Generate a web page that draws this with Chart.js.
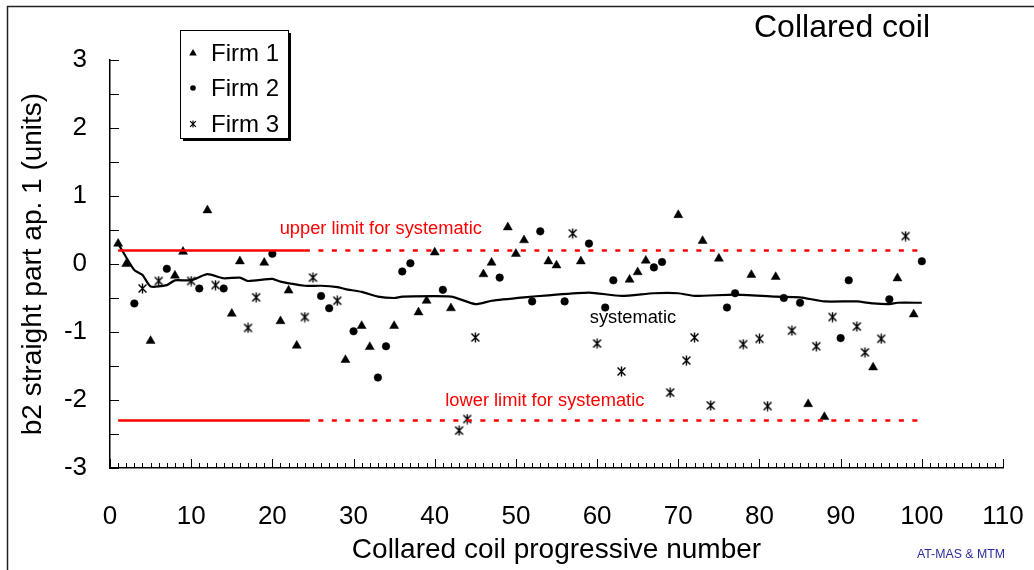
<!DOCTYPE html>
<html>
<head>
<meta charset="utf-8">
<script src="https://cdn.jsdelivr.net/npm/chart.js@4.4.0/dist/chart.umd.min.js"></script>
<style>
    html, body { margin: 0; padding: 0; background: #ffffff; }
    #wrap { width: 1034px; height: 570px; }
</style>
</head>
<body>
<div id="wrap"><canvas id="chart" width="1034" height="570"></canvas></div>
<script>
// b2 per coil, one list pair per firm
const firm1Coils = [1, 2, 5, 8, 9, 12, 15, 16, 19, 21, 22, 23, 29, 31, 32, 35, 38, 39, 40, 42, 46, 47, 49, 50, 51, 54, 55, 58, 64, 65, 66, 70, 73, 75, 79, 82, 86, 88, 94, 97, 99];
const firm1Values = [0.30, 0.00, -1.13, -0.17, 0.18, 0.79, -0.73, 0.04, 0.02, -0.84, -0.39, -1.20, -1.41, -0.91, -1.22, -0.91, -0.71, -0.54, 0.17, -0.65, -0.15, 0.02, 0.54, 0.15, 0.35, 0.04, -0.02, 0.04, -0.23, -0.12, 0.05, 0.72, 0.34, 0.08, -0.16, -0.19, -2.06, -2.25, -1.52, -0.21, -0.74];

const firm2Coils = [3, 7, 11, 14, 20, 26, 27, 30, 33, 34, 36, 37, 41, 48, 52, 53, 56, 59, 61, 62, 67, 68, 76, 77, 83, 85, 90, 91, 96, 100];
const firm2Values = [-0.58, -0.07, -0.36, -0.36, 0.15, -0.47, -0.65, -0.99, -1.67, -1.21, -0.11, 0.01, -0.38, -0.20, -0.55, 0.48, -0.55, 0.30, -0.64, -0.24, -0.05, 0.03, -0.64, -0.43, -0.50, -0.57, -1.09, -0.24, -0.52, 0.04];

const firm3Coils = [4, 6, 10, 13, 17, 18, 24, 25, 28, 43, 44, 45, 57, 60, 63, 69, 71, 72, 74, 78, 80, 81, 84, 87, 89, 92, 93, 95, 98];
const firm3Values = [-0.36, -0.25, -0.25, -0.31, -0.94, -0.49, -0.78, -0.20, -0.54, -2.45, -2.28, -1.08, 0.45, -1.17, -1.58, -1.89, -1.42, -1.08, -2.08, -1.18, -1.10, -2.09, -0.98, -1.21, -0.78, -0.92, -1.30, -1.10, 0.41];

// running systematic value
const systematicCoils = [1, 3, 4, 5, 7, 8, 10, 12, 14, 16, 17, 20, 21, 24, 26, 28, 29, 31, 33, 35, 36, 42, 45, 47, 51, 54, 59, 63, 67, 70, 72, 77, 82, 85, 88, 92, 94, 96, 97, 100];
const systematicValues = [0.30, -0.09, -0.16, -0.33, -0.31, -0.24, -0.24, -0.15, -0.21, -0.20, -0.25, -0.22, -0.26, -0.32, -0.32, -0.34, -0.37, -0.41, -0.48, -0.50, -0.48, -0.48, -0.59, -0.54, -0.49, -0.46, -0.42, -0.47, -0.43, -0.43, -0.47, -0.45, -0.48, -0.49, -0.55, -0.55, -0.58, -0.59, -0.57, -0.57];

// limits: solid over the first coils, dashed afterwards
const upperLimit = 0.2;
const lowerLimit = -2.3;
const limitStart = 1;
const limitBreak = 24;
const limitEnd = 100;

const xTickLabels = [0, 10, 20, 30, 40, 50, 60, 70, 80, 90, 100, 110];
const yTickLabels = [-3, -2, -1, 0, 1, 2, 3];

const FONT = "'Liberation Sans', Arial, sans-serif";

function toPoints(xs, ys) {
    return xs.map((x, i) => ({ x: x, y: ys[i] }));
}

// little "*" marker: an X crossed by a vertical stroke
function makeAsterisk(size, lw) {
    const c = document.createElement('canvas');
    c.width = size;
    c.height = size;
    const g = c.getContext('2d');
    g.strokeStyle = '#000';
    g.lineWidth = lw;
    const m = size / 2, d = size * 0.36;
    g.beginPath();
    g.moveTo(m - d, m - d); g.lineTo(m + d, m + d);
    g.moveTo(m + d, m - d); g.lineTo(m - d, m + d);
    g.moveTo(m, 0.5); g.lineTo(m, size - 0.5);
    g.stroke();
    return c;
}
const asterisk = makeAsterisk(11, 1.4);
const asteriskSmall = makeAsterisk(8, 1.1);

const textLabels = [
    { text: 'upper limit for systematic', x: 20.9, y: 0.51, color: '#ff0000' },
    { text: 'lower limit for systematic', x: 41.3, y: -2.02, color: '#ff0000' },
    { text: 'systematic', x: 59.1, y: -0.79, color: '#000000' }
];

const decorations = {
    id: 'decorations',
    afterDraw(chart) {
        const ctx = chart.ctx;
        const xs = chart.scales.x, ys = chart.scales.y;
        const area = chart.chartArea;
        ctx.save();

        // inward tick marks
        ctx.strokeStyle = '#000';
        ctx.lineWidth = 1;
        for (let v = 0; v <= 110; v++) {
            const px = Math.round(xs.getPixelForValue(v)) + 0.5;
            const len = v % 10 === 0 ? 9 : 5;
            ctx.beginPath();
            ctx.moveTo(px, area.bottom);
            ctx.lineTo(px, area.bottom - len);
            ctx.stroke();
        }
        for (let v = -3; v <= 3; v += 0.5) {
            const py = Math.round(ys.getPixelForValue(v)) + 0.5;
            ctx.beginPath();
            ctx.moveTo(area.left, py);
            ctx.lineTo(area.left + 9, py);
            ctx.stroke();
        }

        // annotations
        ctx.font = '18.3px ' + FONT;
        ctx.textBaseline = 'middle';
        ctx.textAlign = 'left';
        textLabels.forEach(l => {
            ctx.fillStyle = l.color;
            ctx.fillText(l.text, xs.getPixelForValue(l.x), ys.getPixelForValue(l.y));
        });

        // chart title
        ctx.fillStyle = '#000';
        ctx.font = '32px ' + FONT;
        ctx.fillText('Collared coil', 754, 28);

        // credit
        ctx.fillStyle = '#2b2b99';
        ctx.font = '12.3px ' + FONT;
        ctx.fillText('AT-MAS & MTM', 917, 555);

        // legend box with drop shadow
        const bx = 180, by = 30, bw = 108, bh = 108;
        ctx.fillStyle = '#000';
        ctx.fillRect(bx + 3, by + 3, bw, bh);
        ctx.fillStyle = '#fff';
        ctx.fillRect(bx, by, bw, bh);
        ctx.strokeStyle = '#000';
        ctx.lineWidth = 1;
        ctx.strokeRect(bx + 0.5, by + 0.5, bw, bh);

        const rows = [53, 88, 124];
        const mx = 193;
        ctx.fillStyle = '#000';
        // triangle
        ctx.beginPath();
        ctx.moveTo(mx, rows[0] - 4);
        ctx.lineTo(mx + 3.8, rows[0] + 2.5);
        ctx.lineTo(mx - 3.8, rows[0] + 2.5);
        ctx.closePath();
        ctx.fill();
        // circle
        ctx.beginPath();
        ctx.arc(mx, rows[1], 2.8, 0, Math.PI * 2);
        ctx.fill();
        // asterisk
        ctx.drawImage(asteriskSmall, mx - 4, rows[2] - 4);

        ctx.font = '24px ' + FONT;
        ctx.textBaseline = 'middle';
        chart.data.datasets.filter(d => d.inLegend).forEach((d, i) => {
            ctx.fillText(d.label, 211, rows[i] + 1);
        });

        // outer frame
        ctx.strokeStyle = '#222';
        ctx.lineWidth = 1.5;
        ctx.beginPath();
        ctx.moveTo(7.5, 570);
        ctx.lineTo(7.5, 6.5);
        ctx.lineTo(1034, 6.5);
        ctx.stroke();

        ctx.restore();
    }
};

const limitStyle = { showLine: true, pointRadius: 0, borderColor: '#ff0000', borderWidth: 2.5, fill: false };

new Chart(document.getElementById('chart'), {
    type: 'scatter',
    data: {
        datasets: [
            Object.assign({ label: 'upper', data: toPoints([limitStart, limitBreak], [upperLimit, upperLimit]) }, limitStyle),
            Object.assign({ label: 'upper ext', data: toPoints([limitBreak, limitEnd], [upperLimit, upperLimit]), borderDash: [5, 8.5] }, limitStyle),
            Object.assign({ label: 'lower', data: toPoints([limitStart, limitBreak], [lowerLimit, lowerLimit]) }, limitStyle),
            Object.assign({ label: 'lower ext', data: toPoints([limitBreak, limitEnd], [lowerLimit, lowerLimit]), borderDash: [5, 8.5] }, limitStyle),
            {
                label: 'systematic',
                data: toPoints(systematicCoils, systematicValues),
                showLine: true,
                pointRadius: 0,
                borderColor: '#000',
                borderWidth: 2.2,
                tension: 0.2
            },
            {
                label: 'Firm 1',
                inLegend: true,
                data: toPoints(firm1Coils, firm1Values),
                pointStyle: 'triangle',
                pointRadius: 5.2,
                backgroundColor: '#000',
                borderColor: '#000',
                borderWidth: 0.5
            },
            {
                label: 'Firm 2',
                inLegend: true,
                data: toPoints(firm2Coils, firm2Values),
                pointStyle: 'circle',
                pointRadius: 3.8,
                backgroundColor: '#000',
                borderColor: '#000',
                borderWidth: 0.5
            },
            {
                label: 'Firm 3',
                inLegend: true,
                data: toPoints(firm3Coils, firm3Values),
                pointStyle: asterisk,
                pointRadius: 5
            }
        ]
    },
    options: {
        responsive: false,
        animation: false,
        layout: { padding: { left: 0, top: 60, right: 31, bottom: 0 } },
        plugins: {
            legend: { display: false },
            tooltip: { enabled: false }
        },
        scales: {
            x: {
                type: 'linear',
                min: 0,
                max: 110,
                afterFit: scale => {
                    scale.height = 102;
                    scale.paddingLeft = 0;
                    scale.paddingRight = 0;
                },
                afterBuildTicks: scale => { scale.ticks = xTickLabels.map(v => ({ value: v })); },
                ticks: {
                    autoSkip: false,
                    maxRotation: 0,
                    padding: 33,
                    color: '#000',
                    font: { family: FONT, size: 26 }
                },
                grid: { drawOnChartArea: false, drawTicks: false },
                border: { display: true, color: '#000', width: 1.5 },
                title: {
                    display: true,
                    text: 'Collared coil progressive number',
                    color: '#000',
                    font: { family: FONT, size: 28 },
                    padding: { top: 0, bottom: 3 }
                }
            },
            y: {
                type: 'linear',
                min: -3,
                max: 3,
                afterFit: scale => {
                    scale.width = 110;
                    scale.paddingTop = 0;
                    scale.paddingBottom = 0;
                },
                afterBuildTicks: scale => { scale.ticks = yTickLabels.map(v => ({ value: v })); },
                ticks: {
                    padding: 23,
                    color: '#000',
                    font: { family: FONT, size: 26 }
                },
                grid: { drawOnChartArea: false, drawTicks: false },
                border: { display: true, color: '#000', width: 1.5 },
                title: {
                    display: true,
                    text: 'b2 straight part ap. 1 (units)',
                    color: '#000',
                    font: { family: FONT, size: 28 },
                    padding: { top: 16, bottom: 0 }
                }
            }
        }
    },
    plugins: [decorations]
});
</script>
</body>
</html>
